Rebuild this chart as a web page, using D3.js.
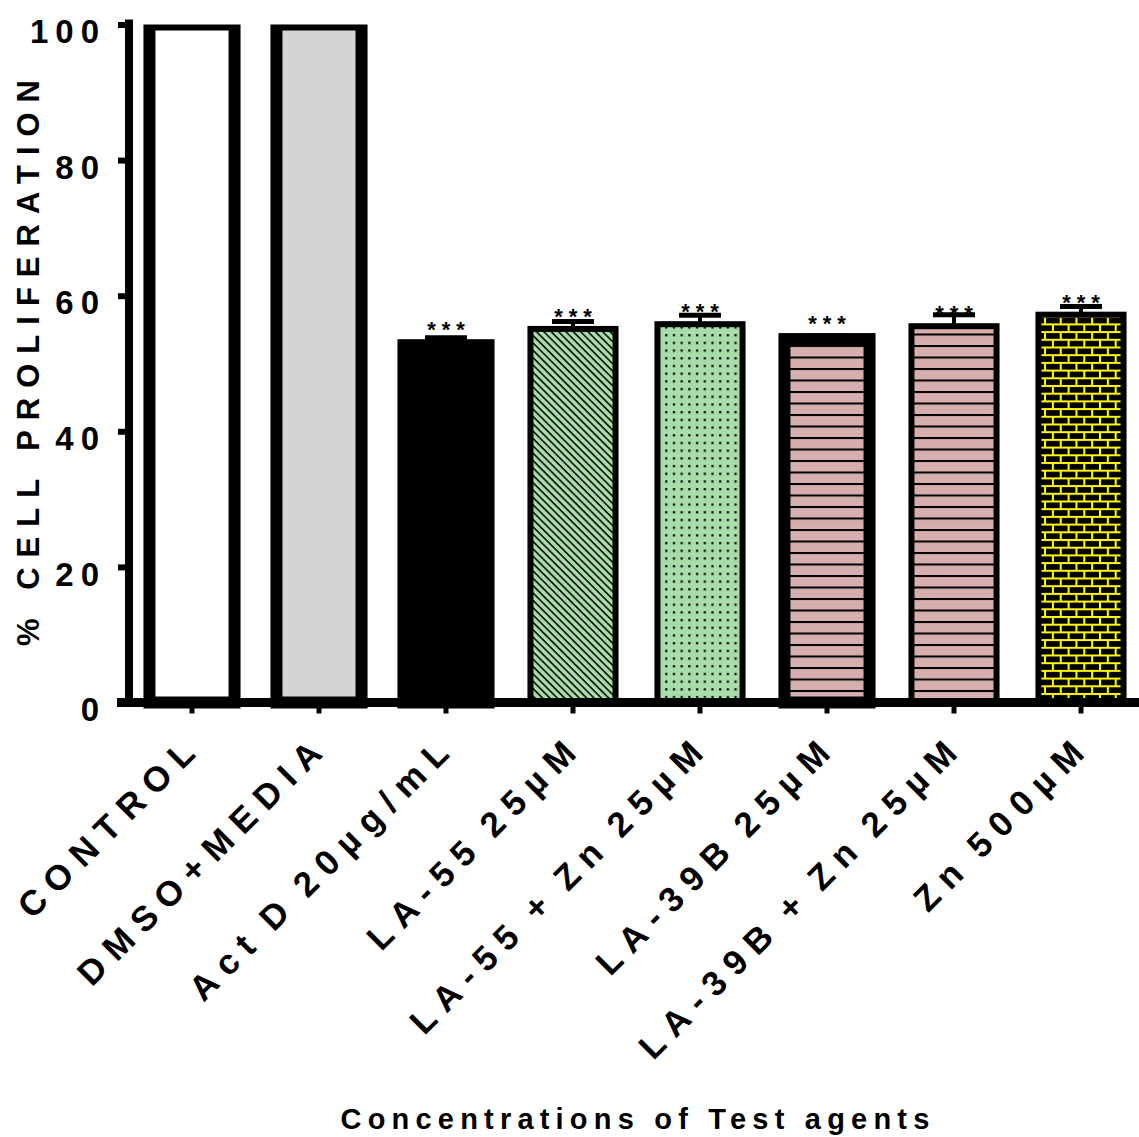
<!DOCTYPE html>
<html>
<head>
<meta charset="utf-8">
<script src="https://cdn.jsdelivr.net/npm/d3@7"></script>
<style>
  body { margin: 0; background: #fff; }
  text { font-family: "Liberation Sans", Arial, sans-serif; font-weight: bold; }
</style>
</head>
<body>
<div id="chart-area"></div>
<script>
// data
const categories = ["CONTROL", "DMSO+MEDIA", "Act D 20µg/mL", "LA-55 25µM",
                    "LA-55 + Zn 25µM", "LA-39B 25µM", "LA-39B + Zn 25µM", "Zn 500µM"];
const means = [100, 100, 52.7, 55.1, 55.8, 53.6, 55.5, 57.2];
const sems  = [0, 0, 1.1, 1.1, 1.3, 0.5, 1.7, 1.2];
const stars = ["", "", "***", "***", "***", "***", "***", "***"];
const yTicks = [0, 20, 40, 60, 80, 100];

// look of each bar: fill / border width
const barFills = ["#ffffff", "#d4d4d4", "#000000", "url(#diag)", "url(#dots)",
                  "url(#hlines)", "url(#hlines)", "url(#brick)"];
const barStroke = [12, 12, 12, 6, 6, 12, 6, 6];

const width = 1139, height = 1137;
const svg = d3.select("#chart-area").append("svg")
    .attr("width", width)
    .attr("height", height);

const x = d3.scaleBand()
    .domain(categories)
    .range([128.5, 1144.5])
    .paddingInner(0.33)
    .paddingOuter(0.165);

const y = d3.scaleLinear()
    .domain([0, 100])
    .range([702.5, 24.5]);

// patterns
const defs = svg.append("defs");

const diag = defs.append("pattern").attr("id", "diag")
    .attr("patternUnits", "userSpaceOnUse")
    .attr("width", 10).attr("height", 5.2)
    .attr("patternTransform", "rotate(45)");
diag.append("rect").attr("width", 10).attr("height", 5.2).attr("fill", "#a8dca8");
diag.append("rect").attr("width", 10).attr("height", 1.5).attr("fill", "#000");

const dots = defs.append("pattern").attr("id", "dots")
    .attr("patternUnits", "userSpaceOnUse")
    .attr("width", 7.7).attr("height", 7.7);
dots.append("rect").attr("width", 7.7).attr("height", 7.7).attr("fill", "#a8dca8");
dots.append("rect").attr("x", 3).attr("y", 3).attr("width", 2.2).attr("height", 2.2).attr("fill", "#000");

const hl = defs.append("pattern").attr("id", "hlines")
    .attr("patternUnits", "userSpaceOnUse")
    .attr("width", 20).attr("height", 11.5);
hl.append("rect").attr("width", 20).attr("height", 11.5).attr("fill", "#d6aeae");
hl.append("rect").attr("y", 0).attr("width", 20).attr("height", 2).attr("fill", "#000");

const brick = defs.append("pattern").attr("id", "brick")
    .attr("patternUnits", "userSpaceOnUse")
    .attr("width", 15.7).attr("height", 15.4);
brick.append("rect").attr("width", 15.7).attr("height", 15.4).attr("fill", "#000");
brick.append("rect").attr("y", 0).attr("width", 15.7).attr("height", 2).attr("fill", "#ffff00");
brick.append("rect").attr("y", 7.7).attr("width", 15.7).attr("height", 2).attr("fill", "#ffff00");
brick.append("rect").attr("x", 0).attr("y", 0).attr("width", 2).attr("height", 7.7).attr("fill", "#ffff00");
brick.append("rect").attr("x", 7.85).attr("y", 7.7).attr("width", 2).attr("height", 7.7).attr("fill", "#ffff00");

// clip everything above 100
defs.append("clipPath").attr("id", "plotclip")
  .append("rect")
    .attr("x", 0).attr("y", y(100))
    .attr("width", width).attr("height", y(0) - y(100) + 10);

const rows = categories.map((c, i) => ({cat: c, mean: means[i], sem: sems[i], star: stars[i], i: i}));

// bars
svg.append("g").attr("clip-path", "url(#plotclip)")
  .selectAll("rect")
  .data(rows)
  .enter().append("rect")
    .attr("x", d => x(d.cat))
    .attr("y", d => y(d.mean))
    .attr("width", x.bandwidth())
    .attr("height", d => y(0) - y(d.mean))
    .attr("fill", d => barFills[d.i])
    .attr("stroke", "#000")
    .attr("stroke-width", d => barStroke[d.i]);

// error bars (upper only)
const err = svg.append("g").selectAll("g")
  .data(rows.filter(d => d.sem > 0))
  .enter().append("g");
err.append("line")
    .attr("x1", d => x(d.cat) + x.bandwidth() / 2)
    .attr("x2", d => x(d.cat) + x.bandwidth() / 2)
    .attr("y1", d => y(d.mean))
    .attr("y2", d => y(d.mean + d.sem))
    .attr("stroke", "#000").attr("stroke-width", 4);
err.append("line")
    .attr("x1", d => x(d.cat) + x.bandwidth() / 2 - 21)
    .attr("x2", d => x(d.cat) + x.bandwidth() / 2 + 21)
    .attr("y1", d => y(d.mean + d.sem))
    .attr("y2", d => y(d.mean + d.sem))
    .attr("stroke", "#000").attr("stroke-width", 5);

// significance stars
svg.append("g").selectAll("text")
  .data(rows.filter(d => d.star))
  .enter().append("text")
    .attr("x", d => x(d.cat) + x.bandwidth() / 2 + 3)
    .attr("y", d => y(d.mean) - barStroke[d.i] / 2 - 14 + 12)
    .attr("text-anchor", "middle")
    .attr("font-size", "22px")
    .attr("letter-spacing", 6)
    .text(d => d.star);

// Y axis
const yAxis = d3.axisLeft(y).tickValues(yTicks).tickSize(11).tickSizeOuter(0).tickPadding(12);
const yAxisGroup = svg.append("g")
    .attr("transform", "translate(129,0)")
    .call(yAxis);
yAxisGroup.select(".domain").attr("stroke-width", 8).attr("stroke-linecap", "square")
    .attr("d", "M0," + (y(0)) + "V" + (y(100) - 1));
yAxisGroup.selectAll(".tick line").attr("stroke-width", 6);
yAxisGroup.selectAll(".tick text")
    .attr("font-size", "33px")
    .attr("letter-spacing", 7)
    .attr("fill", "#000")
    .attr("dy", "0.55em");

// X axis
const xAxis = d3.axisBottom(x).tickSize(11).tickSizeOuter(0);
const xAxisGroup = svg.append("g")
    .attr("transform", "translate(0," + y(0) + ")")
    .call(xAxis);
xAxisGroup.select(".domain").remove();
xAxisGroup.append("line")
    .attr("x1", 117).attr("x2", width)
    .attr("stroke", "#000").attr("stroke-width", 9);
xAxisGroup.selectAll(".tick line").attr("stroke-width", 5);
xAxisGroup.selectAll(".tick text")
    .attr("font-size", "35px")
    .attr("letter-spacing", 10)
    .attr("word-spacing", -7)
    .attr("fill", "#000")
    .attr("text-anchor", "end")
    .attr("x", 0).attr("y", 0).attr("dy", 0)
    .attr("transform", "translate(12,46) rotate(-45)");

// Y label
svg.append("text")
    .attr("transform", "translate(39," + 358 + ") rotate(-90)")
    .attr("text-anchor", "middle")
    .attr("font-size", "31px")
    .attr("letter-spacing", 10)
    .text("% CELL PROLIFERATION");

// X label
svg.append("text")
    .attr("x", 638)
    .attr("y", 1129)
    .attr("text-anchor", "middle")
    .attr("font-size", "29px")
    .attr("letter-spacing", 6.2)
    .text("Concentrations of Test agents");
</script>
</body>
</html>
